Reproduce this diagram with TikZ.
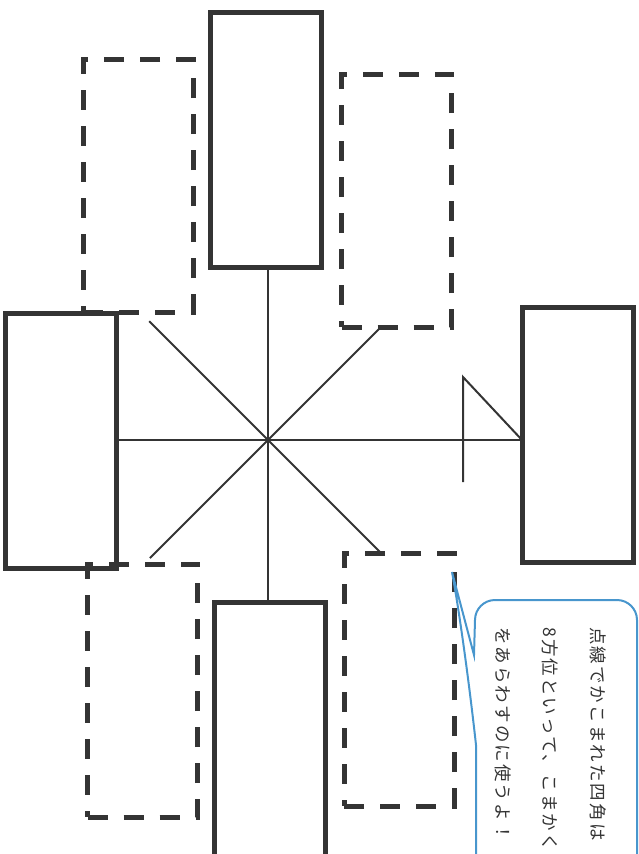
\documentclass[tikz,border=0pt]{standalone}
\usepackage{fontspec}
\newfontfamily\jpfont[LetterSpace=12]{Noto Sans CJK JP}
\definecolor{ink}{RGB}{52,52,52}
\definecolor{bubble}{RGB}{72,150,205}

\begin{document}
\begin{tikzpicture}[
             x = 1pt, y = -1pt,
solidbox/.style = {draw=ink, line width=5pt, minimum width=111pt,
                   minimum height=255pt, inner sep=0pt, outer sep=0pt},
 dashbox/.style = {draw=ink, line width=5pt, dash pattern=on 20pt off 16pt,
                   minimum width=110pt, minimum height=253pt, inner sep=0pt},
     ray/.style = {draw=ink, line width=2pt},
  callout/.style = {draw=bubble, line width=2pt},
     msg/.style = {text=ink, inner sep=0pt, align=left,
                   font={\jpfont\fontsize{17.5}{47.5}\selectfont}}
                        ]
\useasboundingbox (0,0) rectangle (638,854);
\clip (0,0) rectangle (638,854);
% centre of the compass
\coordinate (C) at (268,440);
% boxes for the four main directions
\node[solidbox] (N) at (266,140)   {};
\node[solidbox] (W) at (61,440.5)  {};
\node[solidbox] (E) at (577.5,434.5) {};
\node[solidbox] (S) at (270,729.5) {};
% dashed boxes between them
\node[dashbox] (NW) at (138,185.5) {};
\node[dashbox] (NE) at (396.5,200.5) {};
\node[dashbox] (SW) at (142.5,690.5) {};
\node[dashbox] (SE) at (399,679.5) {};
% the eight rays
\draw[ray] (C |- N.south) -- (C |- S.north);
\draw[ray] (W.east |- C) -- (E.west |- C);
\foreach \a/\r in {-45/158, 45/161, 135/167, 225/168}
    \draw[ray] (C) -- ++(\a:\r);
% flag on the east ray
\coordinate (pole) at (463,440);
\draw[ray] (pole) ++(0,42) -- ++(0,-105) -- (E.west |- C);
% speech bubble
\draw[callout] (476,870) -- (476,745)
    .. controls (470,690) and (460,615) .. (452,572)
    -- (474,655) -- (475,620) arc (180:270:20)
    -- (617,600) arc (270:360:20) -- (637,870);
\node[msg, rotate=-90, anchor=north west] (text) at (606,627)
    {点線でかこまれた四角は\\8方位といって、こまかく\\をあらわすのに使うよ！};
\end{tikzpicture}
\end{document}
